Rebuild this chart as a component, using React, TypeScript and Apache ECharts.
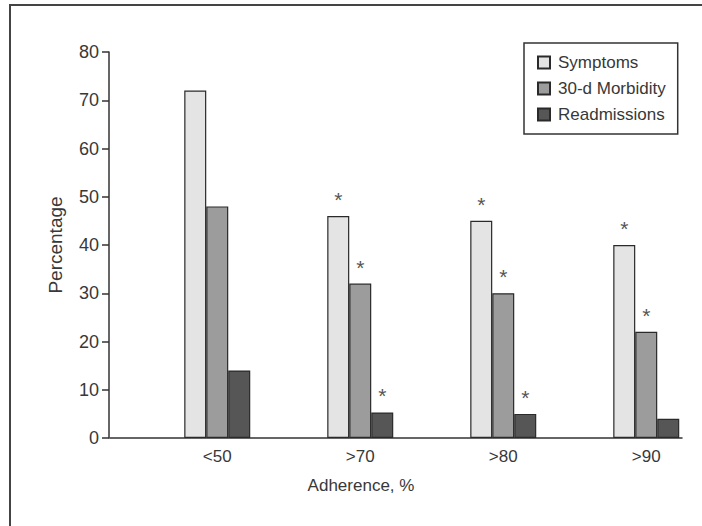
import React, { useEffect, useRef } from 'react';
import * as echarts from 'echarts';

const categories = ['<50', '>70', '>80', '>90'];
const seriesNames = ['Symptoms', '30-d Morbidity', 'Readmissions'];
const symptoms = [72, 46, 45, 40];
const morbidity = [48, 32, 30, 22];
const readmissions = [14, 5.3, 5, 4];
const symptomsSig = [false, true, true, true];
const morbiditySig = [false, true, true, true];
const readmissionsSig = [false, true, true, false];
const yMin = 0;
const yMax = 80;
const yStep = 10;
const xTitle = 'Adherence, %';
const yTitle = 'Percentage';

const FONT = "'Liberation Sans', Arial, sans-serif";
const TXT = '#383838';
const colors = ['#e4e4e4', '#9c9c9c', '#565656'];

export default function App() {
  const ref = useRef<HTMLDivElement>(null);
  useEffect(() => {
    if (!ref.current) return;
    const chart = echarts.init(ref.current, undefined, { renderer: 'svg' });
    // each category occupies two bands: an empty spacer band, then the bar band
    const axisData: string[] = [];
    categories.forEach((c) => { axisData.push(''); axisData.push(c); });
    const build = (vals: number[], sig: boolean[]) => {
      const out: any[] = [];
      vals.forEach((v, i) => {
        out.push('-');
        out.push({ value: v, label: { show: sig[i] } });
      });
      return out;
    };
    const values = [symptoms, morbidity, readmissions];
    const sigs = [symptomsSig, morbiditySig, readmissionsSig];
    chart.setOption({
      animation: false,
      textStyle: { fontFamily: FONT },
      grid: { left: 110, width: 572, top: 52, bottom: 88, containLabel: false },
      legend: {
        orient: 'vertical',
        left: 524,
        top: 43,
        padding: [11, 12, 11, 13],
        itemGap: 9,
        itemWidth: 12,
        itemHeight: 12,
        icon: 'rect',
        borderColor: '#333',
        borderWidth: 1.5,
        textStyle: { fontFamily: FONT, fontSize: 17, color: TXT, padding: [0, 0, 0, 3] },
        data: seriesNames,
      },
      xAxis: {
        type: 'category',
        data: axisData,
        axisLine: { lineStyle: { color: '#333', width: 1.5 } },
        axisTick: { show: false },
        axisLabel: { interval: 0, margin: 10, fontFamily: FONT, fontSize: 17, color: TXT },
      },
      yAxis: {
        type: 'value',
        min: yMin,
        max: yMax,
        interval: yStep,
        offset: 1,
        name: yTitle,
        nameLocation: 'middle',
        nameGap: 44,
        nameRotate: 90,
        nameTextStyle: { fontFamily: FONT, fontSize: 19, color: TXT },
        axisLine: { show: true, lineStyle: { color: '#333', width: 1.5 } },
        axisTick: { show: true, length: 7, lineStyle: { color: '#333', width: 1.5 } },
        axisLabel: { margin: 10, fontFamily: FONT, fontSize: 18, color: TXT },
        splitLine: { show: false },
      },
      graphic: [
        {
          type: 'rect',
          shape: { x: 10, y: 5, width: 720, height: 560 },
          style: { fill: 'none', stroke: '#444', lineWidth: 2 },
          silent: true,
        },
        {
          type: 'text',
          x: 361,
          y: 485,
          style: { text: xTitle, font: `17px ${FONT}`, fill: TXT, textAlign: 'center', textVerticalAlign: 'middle' },
        },
      ],
      series: seriesNames.map((name, k) => ({
        name,
        type: 'bar',
        barWidth: 22,
        barGap: '0%',
        data: build(values[k], sigs[k]),
        itemStyle: { color: colors[k], borderColor: '#2a2a2a', borderWidth: 1.2 },
        label: {
          show: false,
          position: 'top',
          distance: 6,
          formatter: '*',
          fontFamily: FONT,
          fontSize: 21,
          color: '#555',
        },
      })),
    });
    return () => chart.dispose();
  }, []);
  return (
    <div
      ref={ref}
      style={{ position: 'fixed', left: 0, top: 0, width: 702, height: 526, background: '#fff' }}
    />
  );
}
